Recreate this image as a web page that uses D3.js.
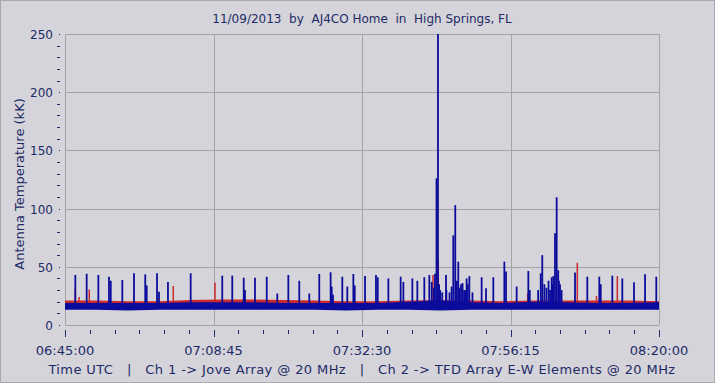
<!DOCTYPE html>
<html><head><meta charset="utf-8">
<script src="https://cdn.jsdelivr.net/npm/d3@7"></script>
<style>
html,body{margin:0;padding:0;background:#d4d4da;}
text{font-family:"DejaVu Sans",Verdana,sans-serif;fill:#1e2a66;}
</style></head>
<body><svg id="c" width="715" height="383"></svg>
<script>
// ---------- data ----------
const titleText = "11/09/2013  by  AJ4CO Home  in  High Springs, FL";
const yAxisTitle = "Antenna Temperature (kK)";
const footerText = "Time UTC   |   Ch 1 -> Jove Array @ 20 MHz   |   Ch 2 -> TFD Array E-W Elements @ 20 MHz";
const xTickLabels = ["06:45:00","07:08:45","07:32:30","07:56:15","08:20:00"];
const yTickValues = [0,50,100,150,200,250];

// baseline envelope (5-minute steps)
const envTimes = ["06:45:00","06:50:00","06:55:00","07:00:00","07:05:00","07:10:00","07:15:00","07:20:00","07:25:00","07:30:00",
                  "07:35:00","07:40:00","07:45:00","07:50:00","07:55:00","08:00:00","08:05:00","08:10:00","08:15:00","08:20:00"];
const ch2Low  = [13,13,12.5,13,13,13,13,13,13,12.5,13,13,12.5,13,13,13,13,13,13,13];
const ch2High = [19,19,19,19,19.5,19.5,19.5,19,19,19,19,20,21,19.5,19,20,19.5,19,19,19.5];
const ch1Low  = [16,16,16,16,16,16,16,16,16,16,16,16,16,16,16,16,16,16,16,16];
const ch1High = [21,21,20.5,20.5,21.5,22,22,21.5,21,20.5,20.5,21,21.5,21,20.5,21,21,21,21,20.5];

// Ch 2 (blue) bursts: time, peak kK
const ch2BurstTimes = ["06:46:39","06:48:28","06:50:20","06:52:02","06:52:19","06:54:10","06:56:02","06:57:50","06:58:04","06:59:43",
  "07:00:02","07:01:28","07:05:06","07:10:09","07:11:45","07:13:35","07:13:47","07:15:23","07:17:16","07:18:57",
  "07:20:43","07:22:28","07:24:04","07:25:40","07:27:29","07:27:39","07:27:52","07:29:21","07:30:09","07:31:07",
  "07:31:20","07:32:59","07:34:44","07:35:01","07:36:43","07:38:41","07:39:07","07:40:33","07:41:21","07:42:28",
  "07:43:16","07:43:39","07:44:10","07:44:25","07:44:39","07:45:00","07:45:56","07:46:30","07:47:06","07:47:25",
  "07:47:54","07:48:20","07:48:50","07:49:14","07:49:40","07:50:10","07:51:38","07:52:20","07:53:30","07:55:16",
  "07:55:32","07:57:14","07:59:06","07:59:20","08:01:05","08:01:20","08:02:00","08:02:50","08:03:06","08:03:22",
  "08:03:38","08:03:53","08:04:10","08:06:34","08:08:32","08:10:27","08:10:41","08:12:32","08:14:08","08:16:00",
  "08:17:46","08:19:34",
  "07:44:00","07:44:50","07:45:20","07:46:00","07:46:50","07:47:40","07:48:05","07:48:35","07:49:00","07:49:25",
  "08:00:40","08:01:40","08:02:20","08:02:35","08:03:00","08:04:00","08:04:25","07:27:35","07:31:15","07:13:40"];
const ch2BurstPeaks = [43,44,43,41.5,38,38.6,44.5,43.5,34,44.5,
  28.6,37,44.4,42.4,42.4,40.6,30,40.6,41.5,27,
  43,38,27,43.8,45.3,33,26,41.5,33,43.8,
  34,42,43,41,40,41.5,37,40,38,41,
  43,37,44,126,250,30,43,28,77,103,
  54.4,35,30,40,42,28,41,31.5,41,54.4,
  46,33,46.4,30,44.4,60,32,41,42,78.8,
  109.7,47,35,45,41.5,41.5,35,42.4,40,36.7,
  43.5,41.5,
  32,35,28,30,33,38,32,36,30,35,
  30,35,38,30,35,38,30,30,28,26];

// Ch 1 (red) bursts
const ch1BurstTimes = ["06:46:39","06:47:15","06:48:53","07:02:19","07:08:59","07:43:51","07:44:42","07:59:00","08:06:56","08:10:00","08:13:20"];
const ch1BurstPeaks = [30.5,24,30.5,33.5,36.5,43,57,27.5,53.5,25,42];

// ---------- chart ----------
const W = 715, H = 383;
const svg = d3.select("#c");
const parse = d3.timeParse("%H:%M:%S");
const x = d3.scaleTime().domain([parse(xTickLabels[0]), parse(xTickLabels[xTickLabels.length-1])]).range([65, 659]);
const y = d3.scaleLinear().domain([0, 250]).range([325, 34]);

svg.append("rect").attr("x",0.5).attr("y",0.5).attr("width",W-1).attr("height",H-1)
  .attr("fill","#d4d4da").attr("stroke","#a8a8ae");

const gridColor = "#a4a4a8";
const majors = xTickLabels.map(parse);
svg.append("g").selectAll("line").data(yTickValues).join("line")
  .attr("x1",x.range()[0]).attr("x2",x.range()[1])
  .attr("y1",d=>Math.round(y(d))+0.5).attr("y2",d=>Math.round(y(d))+0.5)
  .attr("stroke",gridColor).attr("stroke-width",1);
svg.append("g").selectAll("line").data(majors).join("line")
  .attr("x1",d=>Math.round(x(d))+0.5).attr("x2",d=>Math.round(x(d))+0.5)
  .attr("y1",y(250)).attr("y2",y(0))
  .attr("stroke",gridColor).attr("stroke-width",1);

// envelopes
const env = envTimes.map((t,i)=>({t:parse(t), l1:ch1Low[i], h1:ch1High[i], l2:ch2Low[i], h2:ch2High[i]}));
svg.append("path").datum(env)
  .attr("d", d3.area().x(d=>x(d.t)).y0(d=>y(d.l1)).y1(d=>y(d.h1)))
  .attr("fill","#cc2a2a");
svg.append("g").selectAll("line").data(ch1BurstTimes.map((t,i)=>({t:parse(t),v:ch1BurstPeaks[i]}))).join("line")
  .attr("x1",d=>x(d.t)).attr("x2",d=>x(d.t)).attr("y1",y(19)).attr("y2",d=>y(d.v))
  .attr("stroke","#cc2a2a").attr("stroke-width",1.5);

svg.append("path").datum(env)
  .attr("d", d3.area().x(d=>x(d.t)).y0(d=>y(d.l2)).y1(d=>y(d.h2)))
  .attr("fill","#0c0c9c");
svg.append("g").selectAll("line").data(ch2BurstTimes.map((t,i)=>({t:parse(t),v:ch2BurstPeaks[i]}))).join("line")
  .attr("x1",d=>x(d.t)).attr("x2",d=>x(d.t)).attr("y1",y(17)).attr("y2",d=>y(d.v))
  .attr("stroke","#0c0c9c").attr("stroke-width",1.8);

// y ticks
const yMinor = d3.range(0, 251, 10).filter(v => v % 50 !== 0);
svg.append("g").selectAll("line").data(yMinor).join("line")
  .attr("x1",57).attr("x2",60).attr("y1",d=>Math.round(y(d))+0.5).attr("y2",d=>Math.round(y(d))+0.5)
  .attr("stroke","#1e2a66");
svg.append("g").selectAll("rect").data(yTickValues).join("rect")
  .attr("x",59).attr("y",d=>Math.round(y(d))).attr("width",1).attr("height",1).attr("fill","#1e2a66");
svg.append("g").selectAll("text").data(yTickValues).join("text")
  .attr("x",53).attr("y",d=>y(d)+5).attr("text-anchor","end").style("font-size","12px").text(d=>d);

// x ticks
const xMinor = [];
for (let i=0;i<majors.length-1;i++){
  const a=+majors[i], b=+majors[i+1];
  for (let k=1;k<6;k++) xMinor.push(new Date(a+(b-a)*k/6));
}
svg.append("g").selectAll("line").data(xMinor).join("line")
  .attr("x1",d=>Math.round(x(d))+0.5).attr("x2",d=>Math.round(x(d))+0.5).attr("y1",330).attr("y2",334)
  .attr("stroke","#1e2a66");
svg.append("g").selectAll("line").data(majors).join("line")
  .attr("x1",d=>Math.round(x(d))+0.5).attr("x2",d=>Math.round(x(d))+0.5).attr("y1",330).attr("y2",337)
  .attr("stroke","#1e2a66");
svg.append("g").selectAll("text").data(xTickLabels).join("text")
  .attr("x",d=>x(parse(d))).attr("y",355).attr("text-anchor","middle")
  .style("font-size","13px").text(d=>d);

// titles
svg.append("text").attr("x",362).attr("y",23).attr("text-anchor","middle").style("font-size","12px")
  .style("white-space","pre").text(titleText);
svg.append("text").attr("transform","translate(24,184) rotate(-90)").attr("text-anchor","middle")
  .style("font-size","13px").text(yAxisTitle);
svg.append("text").attr("x",362).attr("y",374).attr("text-anchor","middle").style("font-size","13px")
  .style("letter-spacing","0.4px").style("white-space","pre").text(footerText);
</script></body></html>
